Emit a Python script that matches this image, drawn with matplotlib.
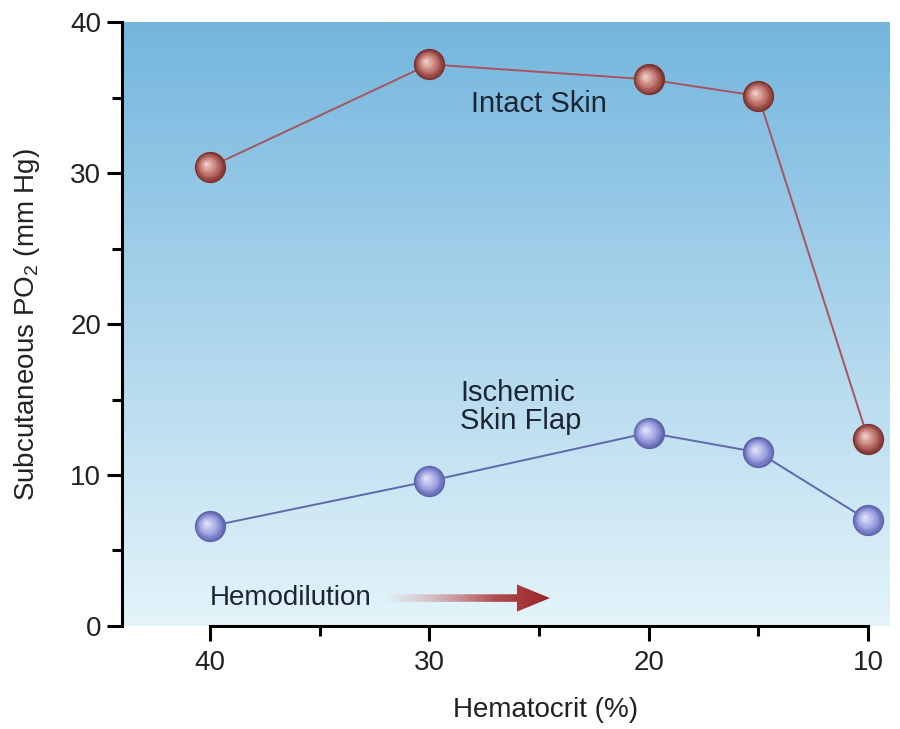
import numpy as np
import matplotlib
matplotlib.use("Agg")
import matplotlib.pyplot as plt
from matplotlib import transforms
from matplotlib.colors import to_rgb
from matplotlib.patches import Polygon

plt.rcParams['font.family'] = ['Liberation Sans', 'DejaVu Sans']
plt.rcParams['mathtext.default'] = 'regular'

# data
hematocrit = [40, 30, 20, 15, 10]
intact_skin = [30.4, 37.2, 36.2, 35.1, 12.4]
ischemic_flap = [6.6, 9.6, 12.8, 11.5, 7.0]

x_major = [40, 30, 20, 10]
x_minor = [35, 25, 15]
y_major = [0, 10, 20, 30, 40]
y_minor = [5, 15, 25, 35]

TEXT = '#1c2633'


def lerp(c1, c2, t):
    a, b = np.array(to_rgb(c1)), np.array(to_rgb(c2))
    return tuple(a + (b - a) * t)


def draw_spheres(ax, fig, xs, ys, edge, mid, light, diam=22.5, n=16):
    """Fake 3D balls: stacked circles shrinking toward a highlight spot."""
    R = diam / 2.0
    hx, hy = -0.25 * R, 0.22 * R
    for i in range(n):
        r = R * (1 - i / n)
        f = 1 - r / R
        tr = transforms.offset_copy(ax.transData, fig=fig, x=hx * f, y=hy * f, units='points')
        if f < 0.4:
            col = lerp(edge, mid, f / 0.4)
        else:
            col = lerp(mid, light, (f - 0.4) / 0.6)
        ax.scatter(xs, ys, s=(2 * r) ** 2, color=col, linewidths=0,
                   transform=tr, zorder=5 + i * 0.01, clip_on=False)


fig = plt.figure(figsize=(9, 7.29), dpi=100)
ax = fig.add_axes([0.1356, 0.1413, 0.8533, 0.8285])
ax.set_xlim(44, 9)
ax.set_ylim(0, 40)

# background gradient
grad = np.linspace(0, 1, 256)[:, None]
top, bot = np.array(to_rgb('#74b6de')), np.array(to_rgb('#e4f4fa'))
bg = top[None, None, :] * (1 - grad[..., None]) + bot[None, None, :] * grad[..., None]
ax.imshow(bg, extent=(44, 9, 0, 40), aspect='auto', origin='upper', zorder=0)

ax.plot(hematocrit, intact_skin, color='#a8545e', lw=1.4, zorder=3)
ax.plot(hematocrit, ischemic_flap, color='#5d68ad', lw=1.4, zorder=3)
draw_spheres(ax, fig, hematocrit, intact_skin, '#7a2e2c', '#bf736c', '#f6ddd6')
draw_spheres(ax, fig, hematocrit, ischemic_flap, '#5a60aa', '#9ea2e2', '#ececfb')

ax.text(25.0, 34.6, 'Intact Skin', fontsize=21, color=TEXT, ha='center', va='center')
ax.text(28.6, 14.5, 'Ischemic\nSkin Flap', fontsize=21, color=TEXT, ha='left',
        va='center', linespacing=1.0)
ax.text(40.0, 1.85, 'Hemodilution', fontsize=20, color=TEXT, ha='left', va='center')

# gradient arrow
ay, x0, xh, xt = 1.85, 32.1, 26.0, 24.5
sh, hh = 0.25, 0.9
arrow = Polygon([(x0, ay - sh), (xh, ay - sh), (xh, ay - hh), (xt, ay),
                 (xh, ay + hh), (xh, ay + sh), (x0, ay + sh)],
                closed=True, transform=ax.transData, facecolor='none', edgecolor='none')
ax.add_patch(arrow)
t = np.linspace(0, 1, 256)
arr = np.zeros((1, 256, 4))
arr[0, :, :3] = np.array([lerp('#d9a0a0', '#9a2328', v) for v in t])
arr[0, :, 3] = np.clip(t * 1.5, 0, 1)
im = ax.imshow(arr, extent=(x0, xt, ay - hh, ay + hh), aspect='auto', zorder=4)
im.set_clip_path(arrow)

# axes styling
for s in ['top', 'right']:
    ax.spines[s].set_visible(False)
for s in ['left', 'bottom']:
    ax.spines[s].set_linewidth(2.2)
ax.spines['bottom'].set_bounds(40, 10)

ax.set_xticks(x_major)
ax.set_xticks(x_minor, minor=True)
ax.set_yticks(y_major)
ax.set_yticks(y_minor, minor=True)
ax.tick_params(which='major', length=11, width=2.2, labelsize=20, colors='black',
               labelcolor='#222222', pad=6)
ax.tick_params(which='minor', length=7, width=2.2)
ax.tick_params(axis='y', which='major', pad=4)

ax.set_xlabel('Hematocrit (%)', fontsize=20, color='#222222')
ax.xaxis.set_label_coords(0.552, -0.118)
ax.set_ylabel('Subcutaneous PO$_2$ (mm Hg)', fontsize=20, color='#222222', labelpad=20)

fig.savefig('out.png', dpi=100)
